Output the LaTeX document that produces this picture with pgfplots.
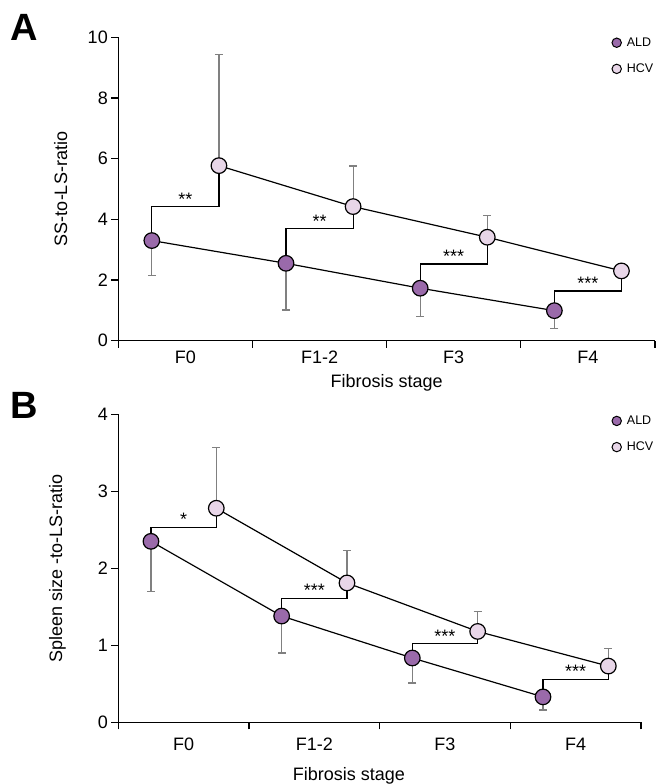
\documentclass[border=0pt]{standalone}
\usepackage{pgfplots}
\pgfplotsset{compat=1.18}
\usepackage{fontspec}
\setmainfont{Liberation Sans}
\definecolor{aldc}{HTML}{9A6AAA}
\definecolor{hcvc}{HTML}{E8D6E8}
\definecolor{errc}{HTML}{808080}
\tikzset{sigstar/.style={font=\fontsize{18}{18}\selectfont, anchor=base, yshift=1.5pt}}
\pgfplotsset{
  panel/.style={
    scale only axis,
    axis lines=left,
    axis line style={-, line width=1.2pt, black},
    xmin=-0.5, xmax=3.5, ymin=0,
    xtick={-0.5,0.5,1.5,2.5,3.5},
    xticklabels={F0,F1-2,F3,F4},
    x tick label as interval,
    tick align=outside,
    major tick length=7pt,
    tick style={line width=1.2pt, black},
    ticklabel style={font=\fontsize{18}{20}\selectfont},
    /pgf/number format/assume math mode=true,
    clip=false,
    legend style={draw=none, fill=none, font=\fontsize{12.5}{14}\selectfont, inner sep=0pt, row sep=12pt, column sep=3pt, legend cell align=left},
  },
  errA/.style={forget plot, black, line width=1.2pt, mark=none, error bars/.cd, y dir=#1, y explicit,
    error bar style={draw=errc, line width=1.2pt},
    error mark options={rotate=90, draw=errc, line width=1.2pt, mark size=4pt}},
  aldm/.style={only marks, mark=*, mark size=7.8pt, mark options={fill=aldc, draw=black, line width=1.2pt},
    legend image code/.code={\draw[black, line width=1pt, fill=aldc] (0pt,0pt) circle (4.7pt);}},
  hcvm/.style={only marks, mark=*, mark size=7.8pt, mark options={fill=hcvc, draw=black, line width=1.2pt},
    legend image code/.code={\draw[black, line width=1pt, fill=hcvc] (0pt,0pt) circle (4.7pt);}},
  conn/.style={forget plot, black, line width=1.2pt, mark=none},
}
\begin{document}
\begin{tikzpicture}
\useasboundingbox (0,0) rectangle (657pt,784pt);
\node[font=\bfseries\fontsize{38}{40}\selectfont] at (23.8pt,757pt) {A};
\node[font=\bfseries\fontsize{38}{40}\selectfont] at (23.8pt,378.5pt) {B};
% Panel A
\begin{axis}[panel, at={(118.3pt,443.3pt)}, anchor=south west,
  width=536.7pt, height=303.4pt, ymax=10, ytick={0,2,4,6,8,10},
  xlabel={Fibrosis stage}, ylabel={SS-to-LS-ratio},
  every axis x label/.style={at={(axis description cs:0.5,-0.139)}, anchor=center, font=\fontsize{18}{20}\selectfont},
  every axis y label/.style={at={(axis description cs:-0.1073,0.5)}, anchor=center, rotate=90, font=\fontsize{18}{20}\selectfont},
  legend style={at={(axis description cs:0.9186,1.006)}, anchor=north west}]
\addplot[conn] coordinates {(-0.25,3.30) (-0.25,4.41) (0.25,4.41) (0.25,5.77)};
\addplot[conn] coordinates {(0.75,2.55) (0.75,3.69) (1.25,3.69) (1.25,4.42)};
\addplot[conn] coordinates {(1.75,1.73) (1.75,2.53) (2.25,2.53) (2.25,3.41)};
\addplot[conn] coordinates {(2.75,0.99) (2.75,1.64) (3.25,1.64) (3.25,2.30)};
\addplot[errA=minus] coordinates {(-0.25,3.30) +- (0,1.14) (0.75,2.55) +- (0,1.54) (1.75,1.73) +- (0,0.92) (2.75,0.99) +- (0,0.60)};
\addplot[errA=plus] coordinates {(0.25,5.77) +- (0,3.67) (1.25,4.42) +- (0,1.34) (2.25,3.41) +- (0,0.72) (3.25,2.30) +- (0,0.20)};
\addplot[aldm] coordinates {(-0.25,3.30) (0.75,2.55) (1.75,1.73) (2.75,0.99)};
\addplot[hcvm] coordinates {(0.25,5.77) (1.25,4.42) (2.25,3.41) (3.25,2.30)};
\legend{ALD,HCV}
\node[sigstar] at (axis cs:0,4.41) {**};
\node[sigstar] at (axis cs:1,3.69) {**};
\node[sigstar] at (axis cs:2,2.53) {***};
\node[sigstar] at (axis cs:3,1.64) {***};
\end{axis}
% Panel B
\begin{axis}[panel, at={(118.3pt,61.7pt)}, anchor=south west,
  width=522.7pt, height=308pt, ymax=4, ytick={0,1,2,3,4},
  xticklabel style={yshift=-5pt},
  xlabel={Fibrosis stage}, ylabel={Spleen size -to-LS-ratio},
  every axis x label/.style={at={(axis description cs:0.441,-0.174)}, anchor=center, font=\fontsize{18}{20}\selectfont},
  every axis y label/.style={at={(axis description cs:-0.1163,0.5)}, anchor=center, rotate=90, font=\fontsize{18}{20}\selectfont},
  legend style={at={(axis description cs:0.9432,1.002)}, anchor=north west}]
\addplot[conn] coordinates {(-0.25,2.35) (-0.25,2.53) (0.25,2.53) (0.25,2.78)};
\addplot[conn] coordinates {(0.75,1.38) (0.75,1.61) (1.25,1.61) (1.25,1.81)};
\addplot[conn] coordinates {(1.75,0.835) (1.75,1.02) (2.25,1.02) (2.25,1.18)};
\addplot[conn] coordinates {(2.75,0.33) (2.75,0.56) (3.25,0.56) (3.25,0.73)};
\addplot[errA=minus] coordinates {(-0.25,2.35) +- (0,0.65) (0.75,1.38) +- (0,0.48) (1.75,0.835) +- (0,0.325) (2.75,0.33) +- (0,0.17)};
\addplot[errA=plus] coordinates {(0.25,2.78) +- (0,0.79) (1.25,1.81) +- (0,0.42) (2.25,1.18) +- (0,0.26) (3.25,0.73) +- (0,0.23)};
\addplot[aldm] coordinates {(-0.25,2.35) (0.75,1.38) (1.75,0.835) (2.75,0.33)};
\addplot[hcvm] coordinates {(0.25,2.78) (1.25,1.81) (2.25,1.18) (3.25,0.73)};
\legend{ALD,HCV}
\node[sigstar] at (axis cs:0,2.53) {*};
\node[sigstar] at (axis cs:1,1.61) {***};
\node[sigstar] at (axis cs:2,1.02) {***};
\node[sigstar] at (axis cs:3,0.56) {***};
\end{axis}
\end{tikzpicture}
\end{document}
